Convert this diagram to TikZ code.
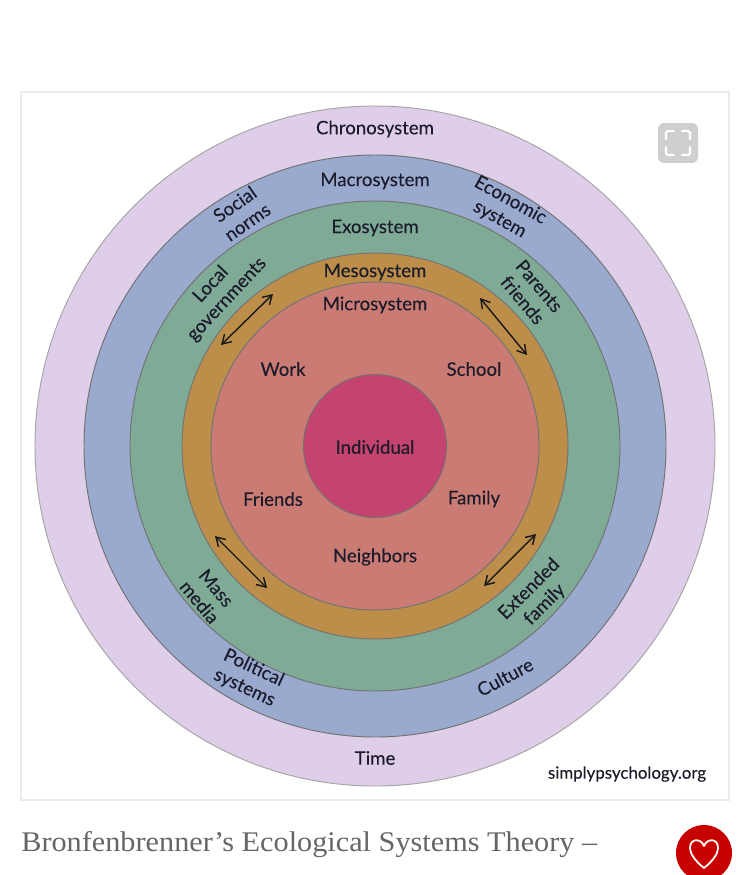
\documentclass[tikz,border=0pt]{standalone}
\usepackage{fontspec}
\setmainfont[FakeBold=0.12]{Lato}
\newfontfamily\captionfont[FakeStretch=1.063]{Liberation Serif}
\usepackage{tikz}
\usetikzlibrary{arrows.meta,positioning}
\definecolor{inkdark}{HTML}{1B1B2B}
\definecolor{chrono}{HTML}{DFCEE9}
\definecolor{macro}{HTML}{9AAACE}
\definecolor{exo}{HTML}{7EAA96}
\definecolor{meso}{HTML}{BC8E4A}
\definecolor{micro}{HTML}{CA7C74}
\definecolor{indiv}{HTML}{C5446F}

\begin{document}
\begin{tikzpicture}[
  x=0.02cm, y=-0.02cm,
  >={Straight Barb[length=5pt,width=6pt]},
  ring/.style={circle, draw=#1, minimum size=0pt, inner sep=0pt, line width=0.55pt},
  lbl/.style={font=\fontsize{10.6}{12.4}\selectfont, text=inkdark, inner sep=0pt, align=center},
]
  \useasboundingbox (0,0) rectangle (750,875);
  \fill[white] (0,0) rectangle (750,875);
  % Panel
  \node[draw=black!8, fill=white, line width=0.8pt, minimum width=14.16cm, minimum height=14.16cm, inner sep=0pt] (panel) at (375,446) {};
  % Rings, outside to inside
  \def\cx{375}
  \def\cy{446}
  \foreach \nm/\rad/\col/\edge in {Chrono/340/chrono/black!35,Macro/291/macro/black!55,Exo/245/exo/black!55,Meso/193/meso/black!55,Micro/164/micro/black!55,Indiv/71.5/indiv/black!55}
    \node[ring=\edge, fill=\col, minimum size={2*\rad*0.02cm}] (\nm) at (\cx,\cy) {};
  % System names down the middle
  \node[lbl] (chrononame) at (375,129) {Chronosystem};
  \node[lbl] (macroname)  at (375,181) {Macrosystem};
  \node[lbl] (exoname)    at (375,228) {Exosystem};
  \node[lbl] (mesoname)   at (375,272) {Mesosystem};
  \node[lbl] (microname)  at (375,305) {Microsystem};
  \node[lbl] (timename)   at (375,758) {Time};
  % Inside the microsystem
  \node[lbl] (work)      at (283,369) {Work};
  \node[lbl] (school)    at (474,369) {School};
  \node[lbl] (individual) at (375,447) {Individual};
  \node[lbl] (friends)   at (273,499) {Friends};
  \node[lbl] (family)    at (474,499) {Family};
  \node[lbl] (neighbors) at (375,557) {Neighbors};
  % Tilted labels in the rings
  \node[lbl, rotate=35]  (social)    at (241,213) {Social\\norms};
  \node[lbl, rotate=-29] (economic)  at (505,210) {Economic\\system};
  \node[lbl, rotate=47]  (local)     at (219,292) {Local\\governments};
  \node[lbl, rotate=-50] (parents)   at (531,293) {Parents\\friends};
  \node[lbl, rotate=-50] (mass)      at (208,595) {Mass\\media};
  \node[lbl, rotate=-25] (political) at (249,678) {Political\\systems};
  \node[lbl, rotate=45]  (extended)  at (537,597) {Extended\\family};
  \node[lbl, rotate=28]  (culture)   at (505,677) {Culture};
  % Arrows across the mesosystem
  \coordinate (a1) at (273,294);
  \coordinate (a2) at (221,345);
  \coordinate (b1) at (480,298);
  \coordinate (b2) at (527,355);
  \coordinate (c1) at (215,536);
  \coordinate (c2) at (267,588);
  \coordinate (d1) at (536,534);
  \coordinate (d2) at (484,586);
  \foreach \p/\q in {a1/a2,b1/b2,c1/c2,d1/d2}
    \draw[<->, line width=0.8pt, black!90] (\p) -- (\q);
  % Credit and caption
  \node[lbl, font=\fontsize{9.6}{10}\selectfont] (credit) at (627,774) {simplypsychology.org};
  \node[font=\captionfont\fontsize{16.2}{18}\selectfont, text=black!60, anchor=base west, inner sep=0pt] (caption) at (21,851) {Bronfenbrenner’s Ecological Systems Theory –};
  % Expand button
  \node[fill=black!19, rounded corners=3.5pt, minimum size=0.8cm, inner sep=0pt] (expand) at (678,143) {};
  \foreach \sx/\sy in {-1/-1,1/-1,-1/1,1/1}
    \draw[white, line width=1.3pt, line cap=round, rounded corners=1pt]
      ({678+\sx*12},{143+\sy*4}) -- ({678+\sx*12},{143+\sy*12}) -- ({678+\sx*4},{143+\sy*12});
  % Like button
  \begin{scope}
    \clip (0,0) rectangle (750,875);
    \node[circle, fill=red!78!black, minimum size=1.12cm, inner sep=0pt] (like) at (704,853) {};
  \end{scope}
  \draw[white, line width=1pt, line join=round]
    (704,868) .. controls (694,860) and (690,853) .. (690,848)
    .. controls (690,838) and (701,838) .. (704,846)
    .. controls (707,838) and (718,838) .. (718,848)
    .. controls (718,853) and (714,860) .. (704,868) -- cycle;
\end{tikzpicture}
\end{document}
